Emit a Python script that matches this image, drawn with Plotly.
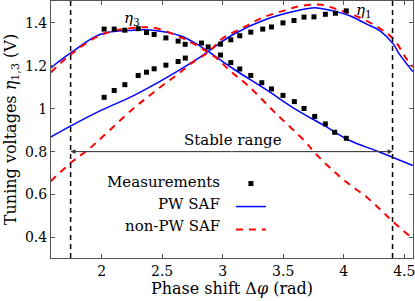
import plotly.graph_objects as go

# Measurements
meas_eta3_x = [2.021, 2.104, 2.192, 2.302, 2.371, 2.434, 2.531, 2.632, 2.690, 2.825, 2.982, 3.067,
               3.141, 3.232, 3.323, 3.403, 3.498, 3.592, 3.672, 3.760, 3.848, 3.925, 4.021]
meas_eta3_y = [1.371, 1.371, 1.366, 1.373, 1.355, 1.346, 1.330, 1.315, 1.300, 1.306, 1.250, 1.215,
               1.185, 1.155, 1.121, 1.092, 1.062, 1.033, 1.001, 0.964, 0.929, 0.890, 0.862]
meas_eta1_x = [2.021, 2.104, 2.192, 2.302, 2.371, 2.434, 2.531, 2.632, 2.691, 2.880, 2.982, 3.067,
               3.141, 3.232, 3.331, 3.403, 3.498, 3.589, 3.672, 3.754, 3.848, 3.931, 4.021]
meas_eta1_y = [1.053, 1.085, 1.112, 1.155, 1.170, 1.186, 1.203, 1.220, 1.236, 1.288, 1.301, 1.321,
               1.340, 1.357, 1.371, 1.381, 1.400, 1.411, 1.427, 1.428, 1.440, 1.445, 1.456]

# PW SAF model
pw_eta3_x = [1.58, 1.75, 1.99, 2.26, 2.40, 2.65, 2.81, 2.88, 3.09, 3.35, 3.62, 3.84, 4.04, 4.30, 4.57]
pw_eta3_y = [1.19, 1.262, 1.347, 1.366, 1.367, 1.34, 1.293, 1.267, 1.185, 1.092, 0.991, 0.921, 0.854, 0.797, 0.735]
pw_eta1_x = [1.58, 1.75, 1.99, 2.26, 2.54, 2.81, 2.88, 3.09, 3.36, 3.64, 3.76, 3.91, 4.05, 4.19, 4.30, 4.41, 4.46, 4.57]
pw_eta1_y = [0.868, 0.921, 0.991, 1.060, 1.146, 1.239, 1.267, 1.347, 1.417, 1.460, 1.471, 1.456, 1.433, 1.394, 1.363, 1.301, 1.254, 1.173]

# non-PW SAF model
npw_eta3_x = [1.58, 1.75, 2.0, 2.29, 2.45, 2.70, 2.88, 2.96, 3.06, 3.21, 3.43, 3.68, 3.77, 3.91, 4.04, 4.19, 4.31, 4.41, 4.57]
npw_eta3_y = [1.169, 1.255, 1.345, 1.378, 1.375, 1.32, 1.262, 1.231, 1.177, 1.107, 0.983, 0.847, 0.789, 0.712, 0.650, 0.587, 0.526, 0.471, 0.395]
npw_eta1_x = [1.58, 1.75, 1.88, 2.01, 2.26, 2.36, 2.50, 2.63, 2.77, 2.88, 2.99, 3.18, 3.33, 3.50, 3.65, 3.82, 3.98, 4.13, 4.28, 4.41, 4.52, 4.57]
npw_eta1_y = [0.662, 0.750, 0.805, 0.870, 1.000, 1.045, 1.107, 1.161, 1.223, 1.262, 1.324, 1.381, 1.425, 1.456, 1.479, 1.484, 1.456, 1.425, 1.381, 1.325, 1.231, 1.195]

stable_lo, stable_hi, stable_v = 1.744, 4.403, 0.8
x_ticks = [2, 2.5, 3, 3.5, 4, 4.5]
x_tick_text = ["2", "2.5", "3", "3.5", "4", "4.5"]
y_ticks = [0.4, 0.6, 0.8, 1.0, 1.2, 1.4]
y_tick_text = ["0.4", "0.6", "0.8", "1", "1.2", "1.4"]
legend_labels = ["Measurements", "PW SAF", "non-PW SAF"]

FONT = "DejaVu Serif"
BLUE = "#0000ff"
RED = "#ff0000"

fig = go.Figure()

# model curves
fig.add_trace(go.Scatter(x=pw_eta3_x, y=pw_eta3_y, mode="lines", line=dict(color=BLUE, width=1.5, shape="spline"),
                         name=" ", legendgroup="pw", showlegend=False, legendrank=2))
fig.add_trace(go.Scatter(x=pw_eta1_x, y=pw_eta1_y, mode="lines", line=dict(color=BLUE, width=1.5, shape="spline"),
                         name=" ", legendgroup="pw", showlegend=True, legendrank=2))
fig.add_trace(go.Scatter(x=npw_eta3_x, y=npw_eta3_y, mode="lines",
                         line=dict(color=RED, width=2, dash="7px,6px", shape="spline"),
                         name="  ", legendgroup="npw", showlegend=False, legendrank=3))
fig.add_trace(go.Scatter(x=npw_eta1_x, y=npw_eta1_y, mode="lines",
                         line=dict(color=RED, width=2, dash="7px,6px", shape="spline"),
                         name="  ", legendgroup="npw", showlegend=True, legendrank=3))

# measurements
fig.add_trace(go.Scatter(x=meas_eta3_x, y=meas_eta3_y, mode="markers",
                         marker=dict(symbol="square", size=5, color="black"),
                         name="   ", legendgroup="m", showlegend=False, legendrank=1))
fig.add_trace(go.Scatter(x=meas_eta1_x, y=meas_eta1_y, mode="markers",
                         marker=dict(symbol="square", size=5, color="black"),
                         name="   ", legendgroup="m", showlegend=True, legendrank=1))

# stable-range boundaries
for xv in (stable_lo, stable_hi):
    fig.add_shape(type="line", xref="x", yref="paper", x0=xv, x1=xv, y0=0, y1=1,
                  line=dict(color="black", width=1.5, dash="5px,4px"))

mid = (stable_lo + stable_hi) / 2
fig.add_shape(type="line", xref="x", yref="y", x0=stable_lo, x1=stable_hi, y0=stable_v, y1=stable_v,
              line=dict(color="#333333", width=0.8))
for end in (stable_lo, stable_hi):
    fig.add_annotation(x=end, y=stable_v, ax=mid, ay=stable_v, axref="x", ayref="y", xref="x", yref="y",
                       text="", showarrow=True, arrowhead=2, arrowsize=1.2, arrowwidth=0.8, arrowcolor="#333333")
fig.add_annotation(x=3.083, y=0.856, xref="x", yref="y", text="Stable range", showarrow=False,
                   font=dict(family=FONT, size=15, color="black"))

fig.add_annotation(x=2.25, y=1.42, xref="x", yref="y", text="<i>η</i><sub>3</sub>", showarrow=False,
                   font=dict(family=FONT, size=15, color="black"))
fig.add_annotation(x=4.17, y=1.46, xref="x", yref="y", text="<i>η</i><sub>1</sub>", showarrow=False,
                   font=dict(family=FONT, size=15, color="black"))

# legend text (right-aligned, left of symbols)
for lab, yp in zip(legend_labels, [0.294, 0.210, 0.126]):
    fig.add_annotation(x=0.472, y=yp, xref="paper", yref="paper", text=lab, showarrow=False,
                       xanchor="right", yanchor="middle", font=dict(family=FONT, size=15, color="black"))

fig.update_layout(
    width=415, height=301,
    margin=dict(l=51, r=2, t=1, b=43),
    plot_bgcolor="white", paper_bgcolor="white",
    font=dict(family=FONT, size=14, color="black"),
    legend=dict(x=0.497, y=0.354, xanchor="left", yanchor="top", bgcolor="rgba(0,0,0,0)",
                font=dict(family=FONT, size=15.4), tracegroupgap=0, itemwidth=30),
)
fig.update_xaxes(range=[1.582, 4.572], tickvals=x_ticks, ticktext=x_tick_text, ticks="inside", ticklen=4,
                 showline=True, mirror="ticks", linecolor="#555555", linewidth=1, tickcolor="#555555",
                 showgrid=False, zeroline=False, tickfont=dict(family=FONT, size=14),
                 ticklabeloverflow="allow",
                 title=dict(text="Phase shift Δ<i>φ</i> (rad)", standoff=5, font=dict(family=FONT, size=16)))
fig.update_yaxes(range=[0.304, 1.502], tickvals=y_ticks, ticktext=y_tick_text, ticks="inside", ticklen=4,
                 showline=True, mirror="ticks", linecolor="#555555", linewidth=1, tickcolor="#555555",
                 showgrid=False, zeroline=False, tickfont=dict(family=FONT, size=14),
                 title=dict(text="Tuning voltages <i>η</i><sub>1,3</sub> (V)", standoff=4, font=dict(family=FONT, size=16)))

fig.write_html("out.html", config={"displayModeBar": False},
               post_script="document.body.style.margin='0';")
